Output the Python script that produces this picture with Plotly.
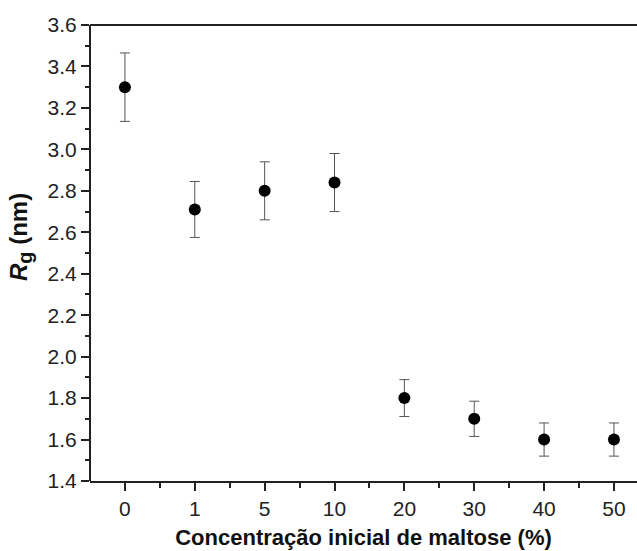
import plotly.graph_objects as go

categories = ["0", "1", "5", "10", "20", "30", "40", "50"]
rg_values = [3.30, 2.71, 2.80, 2.84, 1.80, 1.70, 1.60, 1.60]
rg_errors = [0.165, 0.135, 0.14, 0.14, 0.089, 0.085, 0.08, 0.08]
y_ticks = [1.4, 1.6, 1.8, 2.0, 2.2, 2.4, 2.6, 2.8, 3.0, 3.2, 3.4, 3.6]

xpos = list(range(len(categories)))
FONT = "Liberation Sans, Arial, sans-serif"

fig = go.Figure()
fig.add_trace(go.Scatter(
    x=xpos, y=rg_values, mode="markers",
    marker=dict(color="black", size=12),
    error_y=dict(type="data", array=rg_errors, visible=True,
                 color="#555555", thickness=1, width=5),
    showlegend=False,
))

# frame: left and top lines only (reference is cropped on the right)
fig.add_shape(type="line", xref="paper", yref="paper", x0=0, x1=1, y0=1, y1=1,
              line=dict(color="#222222", width=2))
fig.add_shape(type="line", xref="paper", yref="paper", x0=0, x1=0, y0=0, y1=1,
              line=dict(color="#222222", width=2))

# y-axis title placed like the reference (slightly above centre)
fig.add_annotation(
    text="<b><i>R</i><sub><span style='font-size:20px'>g</span></sub> (nm)</b>",
    xref="paper", yref="paper", x=-0.128, y=0.535,
    xanchor="center", yanchor="middle", textangle=-90, showarrow=False,
    font=dict(size=24, family=FONT, color="#111111"),
)

fig.update_layout(
    width=637, height=551,
    autosize=False,
    margin=dict(l=90, r=0, t=25, b=70, pad=0),
    plot_bgcolor="white", paper_bgcolor="white",
    font=dict(family=FONT, size=21, color="#222222"),
    xaxis=dict(
        range=[-0.5, 7.33],
        tickmode="array", tickvals=xpos, ticktext=categories,
        ticks="outside", ticklen=8, tickwidth=2, tickcolor="#222222",
        showline=True, linecolor="#222222", linewidth=2, mirror=False,
        showgrid=False, zeroline=False,
        minor=dict(tickvals=[i + 0.5 for i in xpos[:-1]], ticks="outside",
                   ticklen=5, tickwidth=2, tickcolor="#222222", showgrid=False),
        tickfont=dict(size=21, family=FONT, color="#222222"),
        title=dict(text="<b>Concentração inicial de maltose (%)</b>",
                   font=dict(size=22, family=FONT, color="#111111"),
                   standoff=10),
    ),
    yaxis=dict(
        range=[1.4, 3.6],
        tickmode="array", tickvals=y_ticks,
        ticktext=[f"{v:.1f}" for v in y_ticks],
        ticks="outside", ticklen=8, tickwidth=2, tickcolor="#222222",
        showline=False, mirror=False,
        showgrid=False, zeroline=False,
        minor=dict(dtick=0.1, tick0=1.4, ticks="outside", ticklen=4,
                   tickwidth=2, tickcolor="#222222", showgrid=False),
        tickfont=dict(size=21, family=FONT, color="#222222"),
    ),
)

fig.write_html("out.html", config={"displayModeBar": False})
